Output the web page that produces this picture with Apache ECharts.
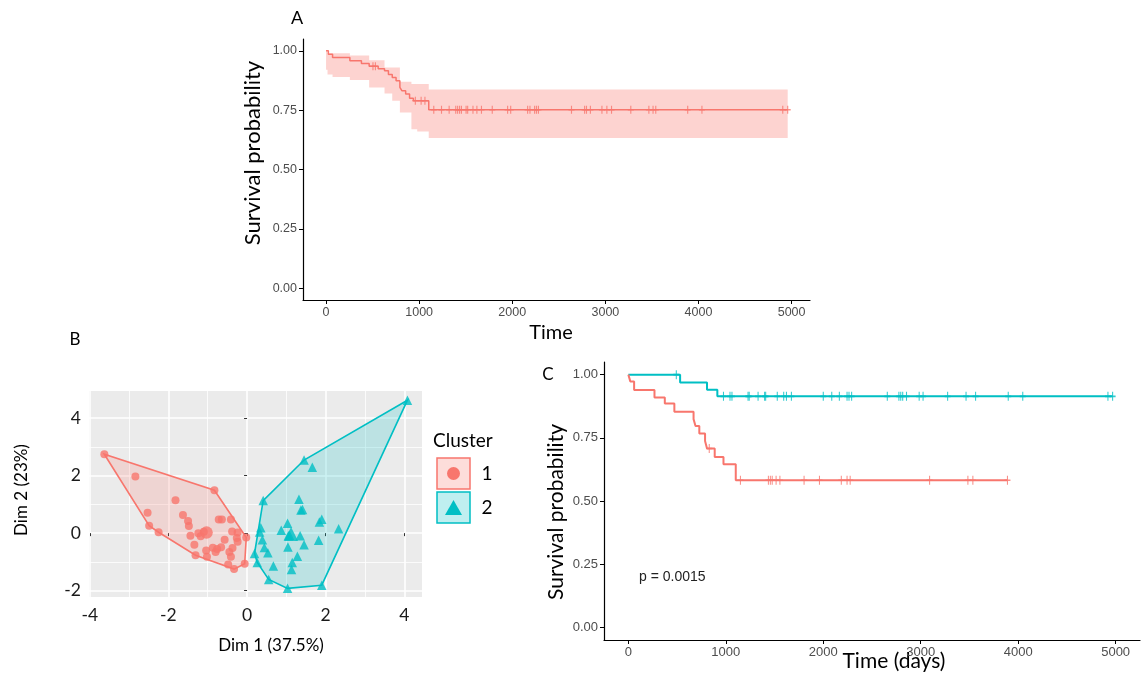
<!DOCTYPE html>
<html><head><meta charset="utf-8">
<script src="https://cdn.jsdelivr.net/npm/echarts@6/dist/echarts.min.js"></script>
<style>html,body{margin:0;padding:0;background:#fff;}#c{width:1141px;height:675px;}</style>
</head><body><div id="c"></div>
<script>
const RED = '#F8766D', TEAL = '#00BFC4';

// ---------- Panel A: overall survival ----------
const aTimes = [0, 25, 70, 256, 380, 463, 560, 628, 670, 711, 752, 793, 814, 855, 897, 938, 1103, 4958];
const aSurv  = [1.0, 0.986, 0.972, 0.958, 0.947, 0.935, 0.925, 0.916, 0.90, 0.888, 0.874, 0.846, 0.832, 0.818, 0.80, 0.79, 0.752, 0.752];
const aBandTimes = [0, 16, 70, 256, 463, 628, 711, 793, 917, 979, 1103, 4958];
const aBandUpper = [1.0, 0.99, 0.99, 0.98, 0.96, 0.93, 0.93, 0.87, 0.86, 0.86, 0.837, 0.837];
const aBandLower = [0.92, 0.90, 0.89, 0.877, 0.846, 0.82, 0.79, 0.74, 0.67, 0.66, 0.633, 0.633];
const aCensor = [504, 530, 959, 1021, 1062, 1157, 1240, 1322, 1393, 1413, 1434, 1454, 1504, 1521, 1578, 1620, 1669, 1785, 1950, 1983, 2165, 2190, 2240, 2260, 2281, 2636, 2777, 2797, 2839, 2963, 3016, 3066, 3273, 3467, 3512, 3541, 3884, 4037, 4905, 4958];

// ---------- Panel C: survival by cluster ----------
const c1Times = [0, 20, 59, 268, 374, 472, 669, 689, 728, 787, 807, 886, 976, 1102, 3890];
const c1Surv  = [1.0, 0.973, 0.939, 0.910, 0.886, 0.853, 0.824, 0.797, 0.767, 0.737, 0.708, 0.674, 0.645, 0.582, 0.582];
const c1Censor = [830, 1150, 1437, 1457, 1476, 1516, 1555, 1803, 1961, 2185, 2244, 2276, 3091, 3484, 3535, 3890];
const c2Times = [0, 531, 807, 913, 4969];
const c2Surv  = [1.0, 0.969, 0.940, 0.914, 0.914];
const c2Censor = [492, 976, 1043, 1063, 1228, 1240, 1331, 1398, 1409, 1528, 1594, 1622, 1673, 2000, 2087, 2165, 2244, 2264, 2291, 2657, 2776, 2795, 2815, 2854, 2984, 3024, 3276, 3465, 3563, 3898, 4047, 4921, 4969];
const pValueLabel = 'p = 0.0015';

// ---------- Panel B: cluster plot ----------
const cluster1 = [[-3.63,2.74],[-2.84,1.97],[-0.83,1.49],[-1.82,1.14],[-2.53,0.71],[-2.49,0.26],[-2.25,0.03],[-1.63,0.63],[-1.50,0.42],[-1.48,0.25],[-1.44,-0.09],[-1.24,0.0],[-1.18,-0.11],[-0.72,0.47],[-0.64,0.47],[-0.41,0.47],[-0.38,0.06],[-0.24,0.02],[-0.26,-0.17],[-0.57,-0.23],[-0.02,-0.15],[-1.34,-0.40],[-1.04,-0.60],[-0.87,-0.51],[-0.76,-0.55],[-0.66,-0.49],[-0.80,-0.66],[-0.45,-0.66],[-0.37,-0.52],[-1.31,-0.77],[-1.02,-0.82],[-0.41,-0.82],[-0.48,-1.09],[-0.33,-1.25],[-0.06,-1.06],[-0.24,-0.30],[-1.10,0.05]];
const cluster1Center = [[-1.03, 0.02]];
const cluster2 = [[4.08,4.62],[1.45,2.54],[1.66,2.29],[0.41,1.13],[1.32,1.18],[1.37,0.80],[1.41,0.82],[1.84,0.39],[1.90,0.48],[2.33,0.15],[1.03,0.34],[0.87,0.10],[1.08,-0.07],[1.35,-0.09],[1.05,-0.09],[0.35,0.19],[0.32,0.04],[0.39,-0.23],[0.44,-0.50],[0.53,-0.68],[0.19,-0.71],[0.26,-1.02],[1.04,-0.48],[1.45,-0.40],[1.82,-0.25],[1.28,-0.80],[1.15,-1.02],[1.13,-1.26],[0.67,-1.14],[0.55,-1.61],[1.03,-1.92],[1.90,-1.81]];
const cluster2Center = [[1.12, -0.03]];

const timeTicks = [0, 1000, 2000, 3000, 4000, 5000];
const survTicks = [0, 0.25, 0.5, 0.75, 1];
const dimMajorTicks = [-4, -2, 0, 2, 4];
const dimMinorTicks = [-3, -1, 1, 3];
const dimYMajorTicks = [-2, 0, 2, 4];
const dimYMinorTicks = [-1, 1, 3];

// ---------- helpers ----------
const zip = (a, b) => a.map((v, i) => [v, b[i]]);
function survAt(times, surv, t) {
  let s = surv[0];
  for (let i = 0; i < times.length; i++) { if (times[i] <= t) s = surv[i]; }
  return s;
}
function hull(pts) {
  const p = pts.slice().sort((a, b) => a[0] - b[0] || a[1] - b[1]);
  const cross = (o, a, b) => (a[0]-o[0])*(b[1]-o[1]) - (a[1]-o[1])*(b[0]-o[0]);
  const lower = [], upper = [];
  for (const q of p) { while (lower.length >= 2 && cross(lower[lower.length-2], lower[lower.length-1], q) <= 0) lower.pop(); lower.push(q); }
  for (let i = p.length - 1; i >= 0; i--) { const q = p[i]; while (upper.length >= 2 && cross(upper[upper.length-2], upper[upper.length-1], q) <= 0) upper.pop(); upper.push(q); }
  upper.pop(); lower.pop();
  return lower.concat(upper);
}
function bandPolygon(t, up, lo) {
  const pts = [];
  for (let i = 0; i < t.length; i++) { pts.push([t[i], up[i]]); if (i < t.length - 1) pts.push([t[i+1], up[i]]); }
  for (let i = t.length - 1; i >= 0; i--) { if (i < t.length - 1) pts.push([t[i+1], lo[i]]); pts.push([t[i], lo[i]]); }
  return pts;
}
function polySeries(xi, yi, pts, style, z) {
  return { type: 'custom', xAxisIndex: xi, yAxisIndex: yi, data: [[pts[0][0], pts[0][1]]], silent: true, clip: false, z: z || 1,
    renderItem: (params, api) => ({ type: 'polygon', shape: { points: pts.map(p => api.coord(p)) }, style: style }) };
}
const censorSymbol = 'path://M4,0L4,8M0,4L8,4';
function censorSeries(xi, yi, times, kmT, kmS, color, size) {
  return { type: 'scatter', xAxisIndex: xi, yAxisIndex: yi, symbol: censorSymbol, symbolSize: size, silent: true, z: 4,
    itemStyle: { color: 'rgba(0,0,0,0)', borderColor: color, borderWidth: 1.3 },
    data: times.map(t => [t, survAt(kmT, kmS, t)]) };
}
function kmLine(xi, yi, t, s, color, w) {
  return { type: 'line', xAxisIndex: xi, yAxisIndex: yi, step: 'end', showSymbol: false, silent: true, z: 3,
    lineStyle: { color: color, width: w }, data: zip(t, s) };
}

const tickLabelA = { color: '#4d4d4d', fontFamily: 'Liberation Sans' };
const classicX = (grid, min, max, ticks, fs) => ({ type: 'value', gridIndex: grid, min, max,
  axisLine: { show: true, onZero: false, lineStyle: { color: '#000', width: 1.2 } },
  axisTick: { show: true, length: 4, lineStyle: { color: '#000' }, customValues: ticks },
  axisLabel: Object.assign({}, tickLabelA, { fontSize: fs, margin: 6, customValues: ticks, formatter: v => String(v) }),
  splitLine: { show: false } });
const classicY = (grid, ticks, fs) => ({ type: 'value', gridIndex: grid, min: -0.05, max: 1.05,
  axisLine: { show: true, onZero: false, lineStyle: { color: '#000', width: 1.2 } },
  axisTick: { show: true, length: 4, lineStyle: { color: '#000' }, customValues: ticks },
  axisLabel: Object.assign({}, tickLabelA, { fontSize: fs, margin: 6, customValues: ticks, formatter: v => v.toFixed(2) }),
  splitLine: { show: false } });

const bLabel = { color: '#1a1a1a', fontFamily: 'Lato', fontSize: 17.5 };
const option = {
  animation: false,
  backgroundColor: '#fff',
  grid: [
    { left: 303, top: 39, width: 507, height: 261 },
    { left: 89, top: 391, width: 333, height: 206, show: true, backgroundColor: '#EBEBEB', borderWidth: 0 },
    { left: 604, top: 362, width: 536, height: 278 }
  ],
  xAxis: [
    classicX(0, -247.5, 5197.5, timeTicks, 12.5),
    { type: 'value', gridIndex: 1, min: -4.02, max: 4.45,
      axisLine: { show: false },
      axisTick: { show: true, length: 3, lineStyle: { color: '#333' }, customValues: dimMajorTicks },
      axisLabel: Object.assign({}, bLabel, { margin: 9, customValues: dimMajorTicks }),
      splitLine: { show: true, lineStyle: { color: '#fff', width: 1.6 } } },
    { type: 'value', gridIndex: 1, min: -4.02, max: 4.45, position: 'bottom',
      axisLine: { show: false }, axisTick: { show: false, customValues: dimMinorTicks },
      axisLabel: { show: false, customValues: dimMinorTicks },
      splitLine: { show: true, lineStyle: { color: '#fff', width: 0.8 } } },
    classicX(2, -250, 5250, timeTicks, 13)
  ],
  yAxis: [
    classicY(0, survTicks, 12.5),
    { type: 'value', gridIndex: 1, min: -2.22, max: 4.94,
      axisLine: { show: false },
      axisTick: { show: true, length: 3, lineStyle: { color: '#333' }, customValues: dimYMajorTicks },
      axisLabel: Object.assign({}, bLabel, { margin: 8, customValues: dimYMajorTicks }),
      splitLine: { show: true, lineStyle: { color: '#fff', width: 1.6 } } },
    { type: 'value', gridIndex: 1, min: -2.22, max: 4.94, position: 'left',
      axisLine: { show: false }, axisTick: { show: false, customValues: dimYMinorTicks },
      axisLabel: { show: false, customValues: dimYMinorTicks },
      splitLine: { show: true, lineStyle: { color: '#fff', width: 0.8 } } },
    classicY(2, survTicks, 13)
  ],
  series: [
    // A
    polySeries(0, 0, bandPolygon(aBandTimes, aBandUpper, aBandLower), { fill: 'rgba(248,118,109,0.32)', stroke: 'none' }, 1),
    kmLine(0, 0, aTimes, aSurv, RED, 1.5),
    censorSeries(0, 0, aCensor, aTimes, aSurv, RED, [6, 8]),
    // B
    polySeries(1, 1, hull(cluster1.concat(cluster1Center)), { fill: 'rgba(248,118,109,0.2)', stroke: RED, lineWidth: 1.6 }, 2),
    polySeries(1, 1, hull(cluster2.concat(cluster2Center)), { fill: 'rgba(0,191,196,0.2)', stroke: TEAL, lineWidth: 1.6 }, 2),
    { type: 'scatter', xAxisIndex: 1, yAxisIndex: 1, symbol: 'circle', symbolSize: 8, itemStyle: { color: RED }, data: cluster1, z: 3, silent: true },
    { type: 'scatter', xAxisIndex: 1, yAxisIndex: 1, symbol: 'circle', symbolSize: 12.5, itemStyle: { color: RED }, data: cluster1Center, z: 3, silent: true },
    { type: 'scatter', xAxisIndex: 1, yAxisIndex: 1, symbol: 'triangle', symbolSize: 9.5, itemStyle: { color: TEAL }, data: cluster2, z: 3, silent: true },
    { type: 'scatter', xAxisIndex: 1, yAxisIndex: 1, symbol: 'triangle', symbolSize: 14, itemStyle: { color: TEAL }, data: cluster2Center, z: 3, silent: true },
    // C
    kmLine(3, 3, c2Times, c2Surv, TEAL, 2),
    kmLine(3, 3, c1Times, c1Surv, RED, 2),
    censorSeries(3, 3, c2Censor, c2Times, c2Surv, TEAL, [6, 9]),
    censorSeries(3, 3, c1Censor, c1Times, c1Surv, RED, [6, 9])
  ],
  graphic: [
    { type: 'text', x: 297, y: 18, style: { text: 'A', font: '18px Lato', fill: '#000', align: 'center', verticalAlign: 'middle' } },
    { type: 'text', x: 253, y: 153, rotation: Math.PI / 2, style: { text: 'Survival probability', font: '22px Lato', fill: '#000', align: 'center', verticalAlign: 'middle' } },
    { type: 'text', x: 551, y: 333, style: { text: 'Time', font: '20px Lato', fill: '#000', align: 'center', verticalAlign: 'middle' } },
    { type: 'text', x: 75, y: 340, style: { text: 'B', font: '17px Lato', fill: '#000', align: 'center', verticalAlign: 'middle' } },
    { type: 'text', x: 22, y: 490, rotation: Math.PI / 2, style: { text: 'Dim 2 (23%)', font: '17px Lato', fill: '#000', align: 'center', verticalAlign: 'middle' } },
    { type: 'text', x: 271, y: 646, style: { text: 'Dim 1 (37.5%)', font: '17px Lato', fill: '#000', align: 'center', verticalAlign: 'middle' } },
    { type: 'text', x: 433, y: 441, style: { text: 'Cluster', font: '19px Lato', fill: '#000', align: 'left', verticalAlign: 'middle' } },
    { type: 'rect', shape: { x: 437, y: 458, width: 33, height: 31 }, style: { fill: 'rgba(248,118,109,0.25)', stroke: RED, lineWidth: 1.5 } },
    { type: 'circle', shape: { cx: 453.5, cy: 473.5, r: 6.5 }, style: { fill: RED } },
    { type: 'rect', shape: { x: 437, y: 492, width: 33, height: 31 }, style: { fill: 'rgba(0,191,196,0.25)', stroke: TEAL, lineWidth: 1.5 } },
    { type: 'polygon', shape: { points: [[445, 515], [462, 515], [453.5, 500]] }, style: { fill: TEAL } },
    { type: 'text', x: 487, y: 474, style: { text: '1', font: '19px Lato', fill: '#000', align: 'center', verticalAlign: 'middle' } },
    { type: 'text', x: 487, y: 508, style: { text: '2', font: '19px Lato', fill: '#000', align: 'center', verticalAlign: 'middle' } },
    { type: 'text', x: 548, y: 375, style: { text: 'C', font: '17px Lato', fill: '#000', align: 'center', verticalAlign: 'middle' } },
    { type: 'text', x: 556, y: 512, rotation: Math.PI / 2, style: { text: 'Survival probability', font: '21px Lato', fill: '#000', align: 'center', verticalAlign: 'middle' } },
    { type: 'text', x: 894, y: 661, style: { text: 'Time (days)', font: '21px Lato', fill: '#000', align: 'center', verticalAlign: 'middle' } },
    { type: 'text', x: 639, y: 577, style: { text: pValueLabel, font: '14px "Liberation Sans"', fill: '#222', align: 'left', verticalAlign: 'middle' } }
  ]
};
const chart = echarts.init(document.getElementById('c'), null, { renderer: 'canvas' });
chart.setOption(option);
</script></body></html>
